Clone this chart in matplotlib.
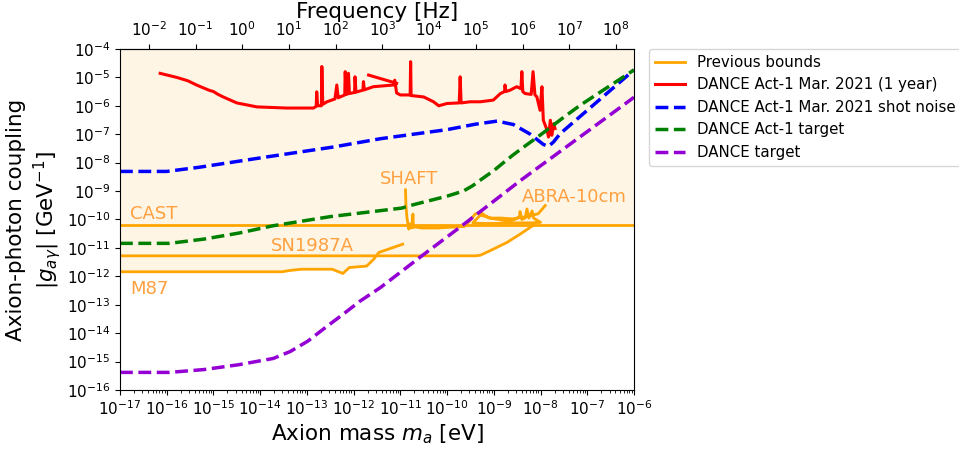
import numpy as np
import matplotlib
matplotlib.use("Agg")
import matplotlib.pyplot as plt
from matplotlib.ticker import LogLocator, NullFormatter

# log10 values (mass in eV, coupling in GeV^-1)
cast_m = [-17.0, -6.0]
cast_g = [-10.18, -10.18]

sn_m = [-17.0, -9.40, -9.29, -9.08, -8.72, -8.43, -8.15]
sn_g = [-11.28, -11.28, -11.26, -11.10, -10.81, -10.51, -10.20]

m87_m = [-17.0, -13.53, -13.39, -13.12, -12.46, -12.23, -12.09, -11.72, -11.57, -11.46, -10.95]
m87_g = [-11.84, -11.84, -11.80, -11.75, -11.75, -11.90, -11.69, -11.64, -11.40, -11.16, -10.87]

shaft_m = [-10.89, -10.88, -10.86, -10.82, -10.80, -10.76, -10.73, -10.72, -10.70, -10.55, -10.20, -9.90, -9.65]
shaft_g = [-8.96, -9.51, -9.92, -10.34, -10.16, -10.30, -9.81, -10.28, -10.26, -10.30, -10.30, -10.27, -10.25]

abra_m = [-9.60, -9.40, -9.29, -9.10, -8.90, -8.70, -8.55, -8.45, -8.44, -8.40, -8.33, -8.29, -8.25, -8.18,
          -8.15, -8.05, -8.00, -8.20, -8.60, -9.00, -9.30, -9.45, -9.29, -9.05, -8.85, -8.60, -8.30, -8.05, -7.90]
abra_g = [-10.22, -9.81, -9.75, -9.95, -10.00, -10.05, -10.00, -9.90, -9.72, -10.00, -9.95, -9.63, -9.95, -9.70,
          -9.95, -10.05, -10.10, -10.12, -10.12, -10.14, -10.14, -10.12, -9.85, -9.95, -9.95, -9.98, -9.90, -9.80, -9.51]

red_m = [-16.14, -15.79, -15.55, -15.36, -15.10, -15.00, -14.90, -14.79, -14.50, -14.07, -13.43, -12.86,
         -12.80, -12.79, -12.77, -12.69, -12.68, -12.66, -12.57, -12.40, -12.36, -12.33, -12.29, -12.19,
         -12.18, -12.16, -12.12, -12.11, -12.09, -11.98, -11.97, -11.95, -11.80, -11.79, -11.77, -11.58,
         -11.15, -11.12, -11.08, -11.00, -10.86, -10.79, -10.78, -10.77, -10.50, -10.29, -10.18, -10.00,
         -9.74, -9.72, -9.70, -9.51, -9.29, -9.01, -8.86, -8.77, -8.76, -8.74, -8.65, -8.51, -8.42, -8.40,
         -8.38, -8.33, -8.20, -8.16, -8.12, -8.08, -8.01, -7.97, -7.94, -7.86, -7.83, -7.79, -7.76, -7.72, -7.69]
red_g = [-4.86, -5.00, -5.12, -5.27, -5.45, -5.50, -5.60, -5.69, -5.90, -6.04, -6.08, -6.08,
         -6.02, -5.51, -6.00, -6.00, -4.62, -5.95, -5.86, -5.76, -5.27, -5.72, -5.69, -5.62,
         -4.80, -5.60, -5.58, -4.86, -5.57, -5.53, -4.98, -5.52, -5.45, -5.15, -5.44, -5.33,
         -5.27, -5.10, -5.55, -5.62, -5.62, -5.62, -4.45, -5.64, -5.69, -5.86, -6.00, -5.92,
         -5.90, -4.98, -5.90, -5.86, -5.86, -5.80, -5.57, -5.50, -5.27, -5.50, -5.45, -5.33, -5.40, -4.80,
         -5.50, -5.57, -5.60, -4.80, -5.62, -5.68, -6.16, -5.33, -6.51, -6.86, -7.10, -6.51, -7.04, -6.63, -6.80]
red_seg_m = [-11.68, -11.08]
red_seg_g = [-4.92, -5.21]

shot_m = [-17.0, -16.0, -15.29, -13.86, -12.43, -11.43, -10.36, -10.0, -9.40, -8.93, -8.58, -8.22, -7.94,
          -7.83, -7.72, -7.58, -7.00, -6.50, -6.0]
shot_g = [-8.31, -8.31, -8.16, -7.80, -7.45, -7.16, -6.92, -6.84, -6.65, -6.54, -6.66, -7.00, -7.36,
          -7.43, -7.27, -6.98, -6.16, -5.45, -4.74]

act1_m = [-17.0, -15.94, -15.20, -14.46, -13.72, -12.50, -11.43, -10.97, -10.72, -10.0, -9.65, -9.45, -9.25,
          -9.0, -8.8, -8.58, -8.30, -8.08, -7.86, -7.50, -7.15, -6.50, -6.0]
act1_g = [-10.84, -10.84, -10.69, -10.48, -10.22, -9.90, -9.69, -9.60, -9.48, -9.18, -9.00, -8.81, -8.57,
          -8.28, -8.01, -7.72, -7.38, -7.12, -6.85, -6.40, -5.98, -5.28, -4.74]

target_m = [-17.0, -15.94, -15.20, -14.46, -13.72, -13.35, -12.98, -12.61, -12.23, -11.86, -11.43, -10.54,
            -9.65, -8.43, -6.08, -6.0]
target_g = [-15.38, -15.38, -15.28, -15.11, -14.89, -14.64, -14.28, -13.81, -13.34, -12.87, -12.40, -11.28,
            -10.18, -8.63, -5.80, -5.70]

H_EVS = 4.135667e-15  # Planck constant [eV s]


def m2f(m):
    return m / H_EVS


def f2m(f):
    return f * H_EVS


def p(a):
    return 10.0 ** np.asarray(a)


fig = plt.figure(figsize=(9.59, 4.5), dpi=100)
ax = fig.add_axes([0.1251, 0.1333, 0.536, 0.758])

# shaded excluded region above the previous bounds
grid = np.linspace(-17, -6, 2201)
env = np.minimum(np.interp(grid, cast_m, cast_g),
                 np.interp(grid, sn_m, sn_g, right=np.inf))
env = np.minimum(env, np.interp(grid, m87_m, m87_g, right=np.inf))
ax.fill_between(p(grid), p(env), 1e-4, color="orange", alpha=0.1, lw=0)

bcol = "orange"
ax.plot(p(cast_m), p(cast_g), color=bcol, lw=2, label="Previous bounds")
ax.plot(p(sn_m), p(sn_g), color=bcol, lw=2)
ax.plot(p(m87_m), p(m87_g), color=bcol, lw=2)
ax.plot(p(shaft_m), p(shaft_g), color=bcol, lw=2)
ax.plot(p(abra_m), p(abra_g), color=bcol, lw=2)

ax.plot(p(red_m), p(red_g), color="red", lw=2.2, label="DANCE Act-1 Mar. 2021 (1 year)")
ax.plot(p(red_seg_m), p(red_seg_g), color="red", lw=2.2)
ax.plot(p(shot_m), p(shot_g), color="blue", lw=2.5, ls="--", label="DANCE Act-1 Mar. 2021 shot noise")
ax.plot(p(act1_m), p(act1_g), color="green", lw=2.5, ls="--", label="DANCE Act-1 target")
ax.plot(p(target_m), p(target_g), color="darkviolet", lw=2.5, ls="--", label="DANCE target")

tcol = "#ffa040"
ax.text(p(-16.78), p(-9.97), "CAST", color=tcol, fontsize=13)
ax.text(p(-13.76), p(-11.10), "SN1987A", color=tcol, fontsize=13)
ax.text(p(-16.78), p(-12.61), "M87", color=tcol, fontsize=13)
ax.text(p(-11.43), p(-8.745), "SHAFT", color=tcol, fontsize=13)
ax.text(p(-8.40), p(-9.40), "ABRA-10cm", color=tcol, fontsize=13)

ax.set_xscale("log")
ax.set_yscale("log")
ax.set_xlim(1e-17, 1e-6)
ax.set_ylim(1e-16, 1e-4)
ax.xaxis.set_major_locator(LogLocator(base=10, numticks=30))
ax.xaxis.set_minor_locator(LogLocator(base=10, subs=np.arange(2, 10), numticks=300))
ax.xaxis.set_minor_formatter(NullFormatter())
ax.yaxis.set_major_locator(LogLocator(base=10, numticks=30))
ax.tick_params(labelsize=11)

ax.set_xlabel("Axion mass $m_a$ [eV]", fontsize=15.5, labelpad=3)
ax.set_ylabel("Axion-photon coupling\n$|g_{a\\gamma}|$ [GeV$^{-1}$]", fontsize=15.5, labelpad=3)

sec = ax.secondary_xaxis("top", functions=(m2f, f2m))
sec.xaxis.set_major_locator(LogLocator(base=10, numticks=30))
sec.xaxis.set_minor_locator(LogLocator(base=10, subs=[], numticks=30))
sec.tick_params(labelsize=11)
sec.set_xlabel("Frequency [Hz]", fontsize=15.5, labelpad=2)

ax.legend(loc="upper left", bbox_to_anchor=(1.03, 1.0), borderaxespad=0, fontsize=10.8)

fig.savefig("out.png", dpi=100)
